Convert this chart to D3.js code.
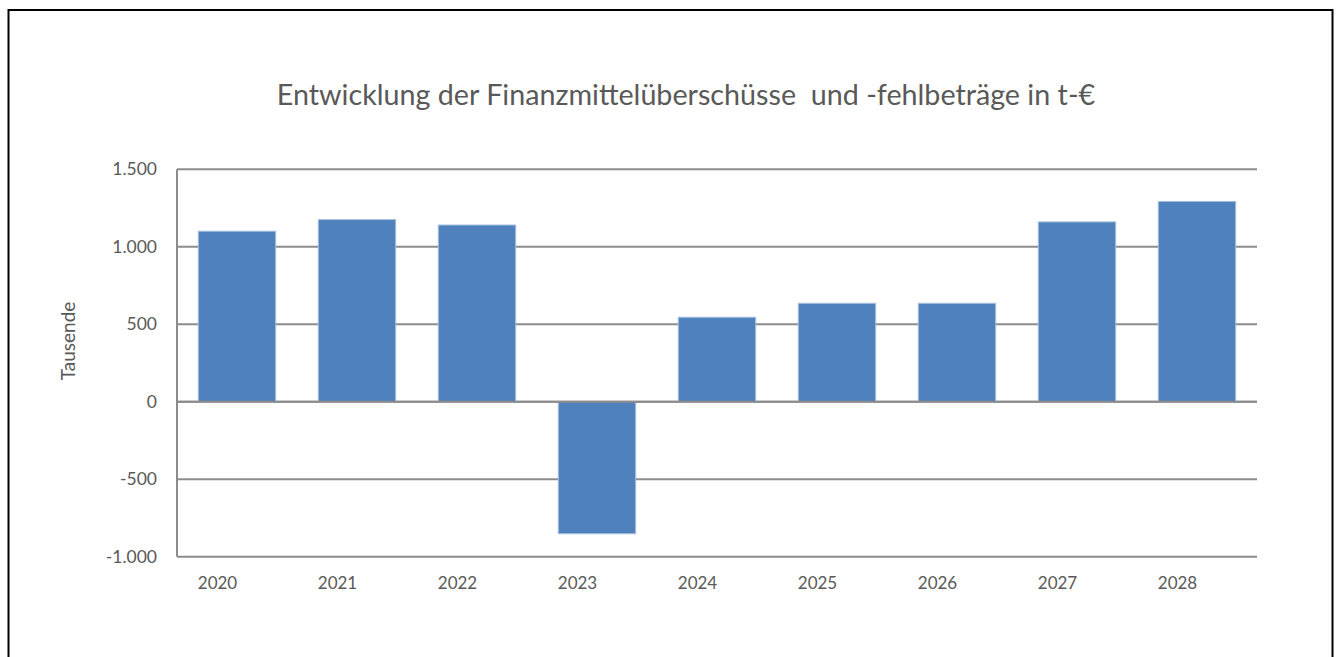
<!DOCTYPE html>
<html lang="de">
<head>
    <meta charset="utf-8" />
    <script src="https://d3js.org/d3.v7.min.js"></script>
    <style>
        body { margin: 0; background: #fff; }
        text { font-family: Lato, "Open Sans", sans-serif; fill: #595959; }
    </style>
</head>
<body>
    <script>
        // Daten
        var jahre = ["2020", "2021", "2022", "2023", "2024", "2025", "2026", "2027", "2028"];
        var werte = [1100, 1175, 1140, -852, 545, 635, 635, 1160, 1292];
        var yTicks = [-1000, -500, 0, 500, 1000, 1500];
        var titel = "Entwicklung der Finanzmittelüberschüsse  und -fehlbeträge in t-€";
        var yTitel = "Tausende";

        var width = 1342, height = 657;
        var plot = { left: 177, right: 1257, top: 169.2, bottom: 556.7 };

        var svg = d3.select("body").append("svg")
            .attr("width", width)
            .attr("height", height);

        // Rahmen
        svg.append("rect")
            .attr("x", 8.5).attr("y", 10)
            .attr("width", 1324).attr("height", 700)
            .attr("fill", "none")
            .attr("stroke", "#000")
            .attr("stroke-width", 2);

        var x = d3.scaleBand()
            .domain(jahre)
            .range([plot.left, plot.right])
            .paddingInner(0.355)
            .paddingOuter(0.355 / 2);

        var y = d3.scaleLinear()
            .domain([-1000, 1500])
            .range([plot.bottom, plot.top]);

        var de = d3.formatLocale({ decimal: ",", thousands: ".", grouping: [3], currency: ["", " €"], minus: "-" });
        var fmt = de.format(",d");

        // Gitterlinien
        svg.append("g")
            .selectAll("line")
            .data(yTicks)
            .join("line")
            .attr("x1", plot.left).attr("x2", plot.right)
            .attr("y1", function (d) { return y(d); })
            .attr("y2", function (d) { return y(d); })
            .attr("stroke", "#8c8c8c")
            .attr("stroke-width", 2);

        // y-Achse
        svg.append("line")
            .attr("x1", plot.left).attr("x2", plot.left)
            .attr("y1", plot.top).attr("y2", plot.bottom)
            .attr("stroke", "#8c8c8c")
            .attr("stroke-width", 2);

        // Balken
        svg.append("g")
            .selectAll("rect")
            .data(werte)
            .join("rect")
            .attr("x", function (d, i) { return x(jahre[i]); })
            .attr("y", function (d) { return y(Math.max(0, d)); })
            .attr("width", x.bandwidth())
            .attr("height", function (d) { return Math.abs(y(d) - y(0)); })
            .attr("fill", "#4f81bd")
            .attr("stroke", "#a7c0e0")
            .attr("stroke-width", 1);

        // Nulllinie
        svg.append("line")
            .attr("x1", plot.left).attr("x2", plot.right)
            .attr("y1", y(0)).attr("y2", y(0))
            .attr("stroke", "#8c8c8c")
            .attr("stroke-width", 2);

        // y-Beschriftung
        svg.append("g")
            .selectAll("text")
            .data(yTicks)
            .join("text")
            .attr("x", 157)
            .attr("y", function (d) { return y(d); })
            .attr("dy", "0.35em")
            .attr("text-anchor", "end")
            .style("font-size", "17.5px")
            .text(function (d) { return fmt(d); });

        // x-Beschriftung
        svg.append("g")
            .selectAll("text")
            .data(jahre)
            .join("text")
            .attr("x", function (d) { return x(d) + x.bandwidth() / 2 - 19.5; })
            .attr("y", 589)
            .attr("text-anchor", "middle")
            .style("font-size", "17px")
            .text(function (d) { return d; });

        // Achsentitel
        svg.append("text")
            .attr("transform", "translate(75,341) rotate(-90)")
            .attr("text-anchor", "middle")
            .style("font-size", "19px")
            .text(yTitel);

        // Titel
        svg.append("text")
            .attr("x", 686)
            .attr("y", 105)
            .attr("text-anchor", "middle")
            .style("font-size", "28.7px")
            .style("white-space", "pre")
            .text(titel);
    </script>
</body>
</html>
